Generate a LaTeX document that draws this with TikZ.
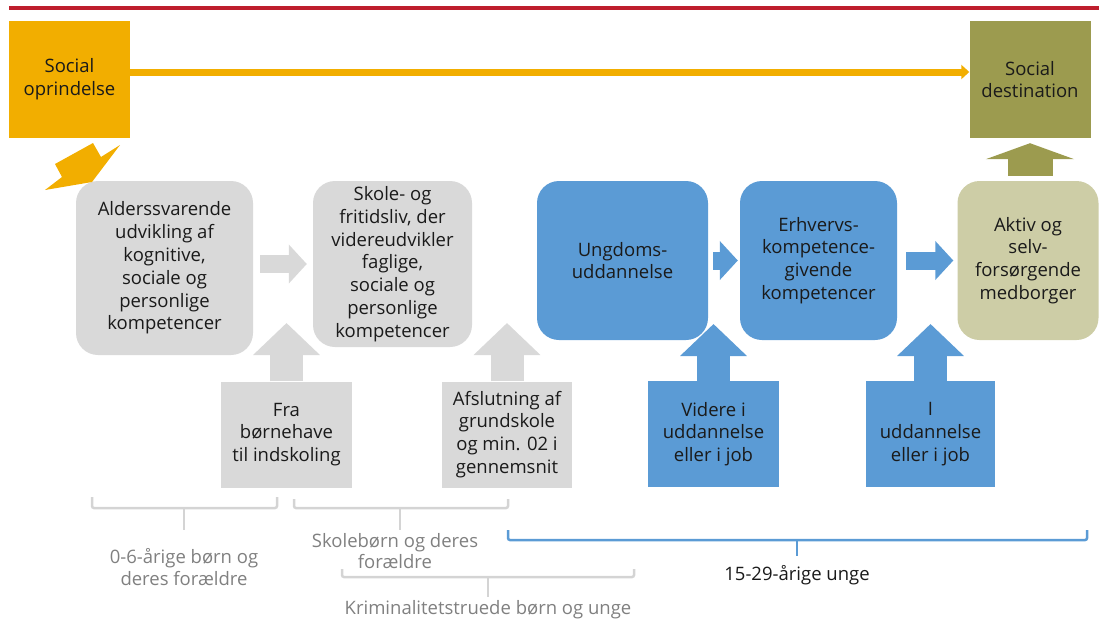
\documentclass[tikz,border=0pt]{standalone}
\usepackage{fontspec}
\setmainfont{Open Sans}
\usetikzlibrary{arrows.meta}

\definecolor{redline}{RGB}{190,30,45}
\definecolor{orig}{RGB}{242,174,0}
\definecolor{olivedark}{RGB}{156,155,79}
\definecolor{olivelight}{RGB}{205,205,166}
\definecolor{grayfill}{RGB}{217,217,217}
\definecolor{bluefill}{RGB}{91,155,213}
\definecolor{bracegray}{RGB}{212,212,212}
\definecolor{labgray}{RGB}{128,128,128}
\definecolor{txt}{RGB}{26,26,26}

\begin{document}
\begin{tikzpicture}[x=1pt,y=-1pt]
\tikzstyle{box}=[align=center, inner sep=0pt, text=txt, font=\fontsize{18.5}{22.8}\selectfont]
\tikzstyle{square}=[box, minimum width=121, minimum height=117]
\tikzstyle{rbox}=[box, rounded corners=22]
\tikzstyle{sbox}=[box, minimum width=131, minimum height=106]
\tikzstyle{lab}=[align=center, inner sep=0pt, text=labgray, font=\fontsize{18.5}{21.5}\selectfont]
\tikzstyle{harrow}=[line width=18, -{Triangle[length=18pt, width=38pt]}]
\tikzstyle{uarrow}=[line width=33, -{Triangle[length=32pt, width=65pt]}]
\tikzstyle{gbrace}=[draw=bracegray, line width=2.5, rounded corners=2]
\tikzstyle{bbrace}=[draw=bluefill, line width=2.5, rounded corners=2]

    \useasboundingbox (0,0) rectangle (1099,638);
    \draw[redline, line width=3.5] (9,8) -- (1099,8);

    \node[square, fill=orig] (orig) at (69.5,79.5) {Social\\oprindelse};
    \node[square, fill=olivedark] (dest) at (1030,79.5) {Social\\destination};

    \node[rbox, fill=grayfill, minimum width=177, minimum height=174] (b1) at (164.5,268) {Alderssvarende\\udvikling af\\kognitive,\\sociale og\\personlige\\kompetencer};
    \node[rbox, fill=grayfill, minimum width=159, minimum height=166] (b2) at (392.5,264) {Skole- og\\fritidsliv, der\\videreudvikler\\faglige,\\sociale og\\personlige\\kompetencer};
    \node[rbox, fill=bluefill, minimum width=171, minimum height=159] (b3) at (622.5,260.5) {Ungdoms-\\uddannelse};
    \node[rbox, fill=bluefill, minimum width=157, minimum height=159] (b4) at (818.5,260.5) {Erhvervs-\\kompetence-\\givende\\kompetencer};
    \node[rbox, fill=olivelight, minimum width=141, minimum height=159] (b5) at (1028,260.5) {Aktiv og\\selv-\\forsørgende\\medborger};

    \node[sbox, fill=grayfill] (g1) at (286.5,434.5) {Fra\\børnehave\\til indskoling};
    \node[sbox, fill=grayfill, minimum width=130] (g2) at (507,434.5) {Afslutning af\\grundskole\\og min. 02 i\\gennemsnit};
    \node[sbox, fill=bluefill] (u1) at (713.5,434) {Videre i\\uddannelse\\eller i job};
    \node[sbox, fill=bluefill, minimum width=129] (u2) at (930.5,434) {I\\uddannelse\\eller i job};

    \coordinate (g1top) at (286.5,323);
    \coordinate (g2top) at (507,323);
    \coordinate (u1top) at (713.5,324);
    \coordinate (u2top) at (930.5,324);

    % top line and arrows
    \draw[orig, line width=7, -{Triangle[length=8pt, width=14pt]}] ([yshift=7.5pt]orig.east) -- ([yshift=7.5pt]dest.west);
    \fill[orig] (93,143) -- (101,157) -- (120,145) -- (92,182) -- (45,190) -- (62,177) -- (55,164) -- cycle;
    \draw[olivedark, line width=45, -{Triangle[length=16pt, width=88pt]}, shorten <=5, shorten >=5] (dest.south |- b5.north) -- (dest.south);

    \draw[harrow, grayfill, shorten <=7, shorten >=6] (b1.east |- b2.west) -- (b2.west);
    \draw[harrow, bluefill, shorten <=5, shorten >=2] (b3.east) -- (b4.west);
    \draw[harrow, bluefill, shorten <=9, shorten >=4] (b4.east) -- (b5.west);

    \draw[uarrow, grayfill] (g1.north) -- (g1top);
    \draw[uarrow, grayfill] (g2.north) -- (g2top);
    \draw[uarrow, bluefill] (u1.north) -- (u1top);
    \draw[uarrow, bluefill] (u2.north) -- (u2top);

    % braces
    \draw[gbrace] (92,497) -- (92,508) -- (277,508) -- (277,497);
    \draw[gbrace] (184,508) -- (184,530);
    \draw[gbrace] (294,499) -- (294,508) -- (508,508) -- (508,499);
    \draw[gbrace] (400,508) -- (400,530);
    \draw[gbrace] (342,569) -- (342,577) -- (634,577) -- (634,569);
    \draw[gbrace] (488,577) -- (488,597);
    \draw[bbrace] (508,530) -- (508,540) -- (1087,540) -- (1087,530);
    \draw[bbrace] (797,540) -- (797,556);

    \node[lab] (l1) at (184,567) {0-6-årige børn og\\deres forældre};
    \node[lab] (l2) at (395,551) {Skolebørn og deres\\forældre};
    \node[lab] (l3) at (488,610) {Kriminalitetstruede børn og unge};
    \node[lab, text=txt] (l4) at (797,575) {15-29-årige unge};

\end{tikzpicture}
\end{document}
